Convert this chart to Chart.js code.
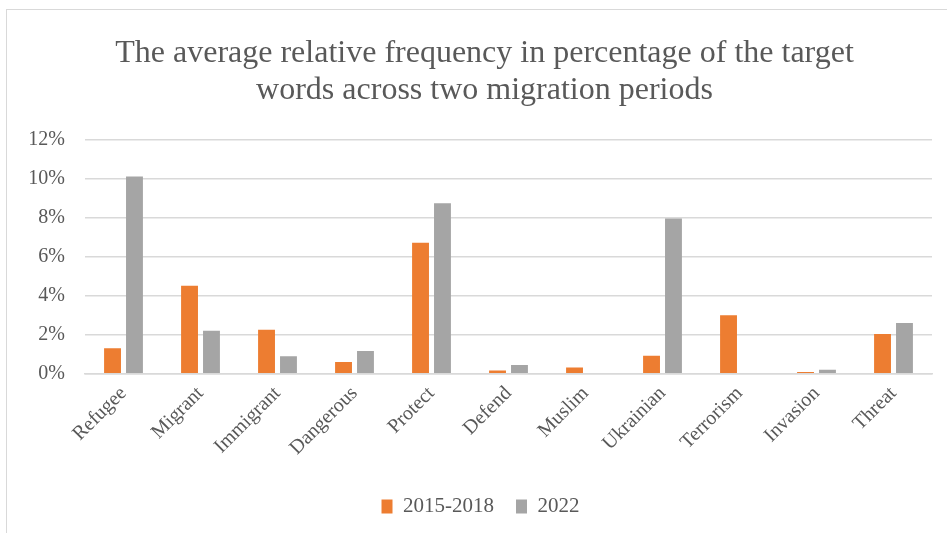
<!DOCTYPE html>
<html>
<head>
<meta charset="utf-8">
<script src="https://cdn.jsdelivr.net/npm/chart.js@4"></script>
<style>
  html, body { margin: 0; padding: 0; background: #fff; overflow: hidden; }
  #box {
    position: absolute; left: 6px; top: 9px;
    width: 950px; height: 540px;
    border: 1px solid #d9d9d9; box-sizing: border-box;
  }
  #myChart { display: block; }
</style>
</head>
<body>
<div id="box"><canvas id="myChart" width="948" height="538"></canvas></div>
<script>
const words = ["Refugee", "Migrant", "Immigrant", "Dangerous", "Protect", "Defend",
               "Muslim", "Ukrainian", "Terrorism", "Invasion", "Threat"];
const period1 = [1.3, 4.5, 2.25, 0.6, 6.7, 0.17, 0.32, 0.92, 3.0, 0.09, 2.03];
const period2 = [10.1, 2.2, 0.9, 1.17, 8.73, 0.45, 0, 7.95, 0, 0.2, 2.6];
const seriesNames = ["2015-2018", "2022"];
const yTicks = [0, 2, 4, 6, 8, 10, 12];

const serif = "'Liberation Serif', 'Times New Roman', serif";
Chart.defaults.font.family = serif;
Chart.defaults.color = "#595959";

function showChart() {
  const data = {
    labels: words,
    datasets: [{
      label: seriesNames[0],
      backgroundColor: "#ed7d31",
      data: period1
    }, {
      label: seriesNames[1],
      backgroundColor: "#a5a5a5",
      data: period2
    }]
  };

  const config = {
    type: "bar",
    data: data,
    options: {
      responsive: false,
      animation: false,
      categoryPercentage: 0.57,
      barPercentage: 0.77,
      layout: { padding: { left: 22, right: 23, top: 12, bottom: 21 } },
      plugins: {
        title: {
          display: true,
          // leading space nudges the centred title a little to the right
          text: [" The average relative frequency in percentage of the target",
                 " words across two migration periods"],
          font: { size: 32, weight: "normal", lineHeight: 1.13 },
          color: "#595959",
          padding: { top: 14, bottom: 31 }
        },
        legend: {
          position: "bottom",
          labels: {
            boxWidth: 11, boxHeight: 14,
            font: { size: 21 },
            color: "#595959",
            padding: 22
          }
        },
        tooltip: { enabled: false }
      },
      scales: {
        x: {
          grid: { display: false },
          border: { color: "#d9d9d9", width: 1.5 },
          afterFit: function (axis) {
            axis.height += 14;
            axis.paddingLeft = 0;
            axis.paddingRight = 0;
          },
          ticks: {
            maxRotation: 45, minRotation: 45,
            font: { size: 20 },
            color: "#595959",
            padding: 0
          }
        },
        y: {
          min: 0, max: 12,
          afterBuildTicks: function (axis) {
            axis.ticks = yTicks.map(v => ({ value: v }));
          },
          afterFit: function (axis) { axis.width = 56; },
          grid: { color: "#d9d9d9", lineWidth: 1.5, drawTicks: false },
          border: { display: false },
          ticks: {
            font: { size: 20 },
            color: "#595959",
            padding: 20,
            callback: v => v + "%"
          }
        }
      }
    }
  };

  new Chart(document.getElementById("myChart"), config);
}

showChart();
</script>
</body>
</html>
